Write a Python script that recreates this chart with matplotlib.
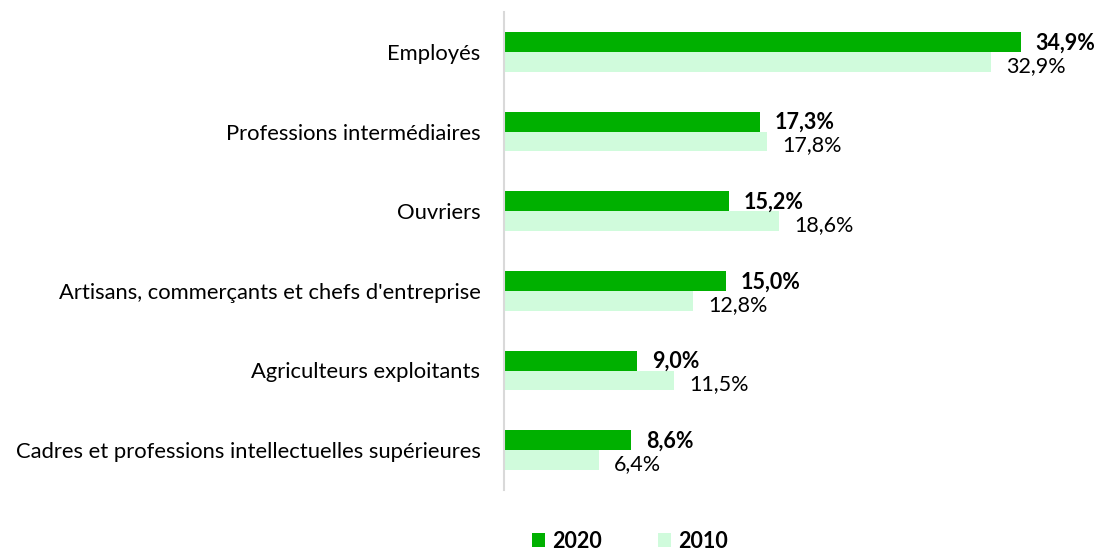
import matplotlib.pyplot as plt
import numpy as np

plt.rcParams['font.family'] = ['Lato', 'DejaVu Sans']

# categories, top to bottom
categories = ["Employés", "Professions intermédiaires", "Ouvriers",
              "Artisans, commerçants et chefs d'entreprise",
              "Agriculteurs exploitants",
              "Cadres et professions intellectuelles supérieures"]
values_2020 = [34.9, 17.3, 15.2, 15.0, 9.0, 8.6]
values_2010 = [32.9, 17.8, 18.6, 12.8, 11.5, 6.4]

dark_green = "#00B000"
light_green = "#D0FBDC"

fig = plt.figure(figsize=(11.02, 5.50), dpi=100)
ax = fig.add_axes([504 / 1102, 1 - 490 / 550, 592 / 1102, 478 / 550])

y = np.arange(len(categories))
h = 0.25
ax.barh(y - h / 2, values_2020, height=h, color=dark_green, label="2020")
ax.barh(y + h / 2, values_2010, height=h, color=light_green, label="2010")

for yi, v in zip(y, values_2020):
    ax.annotate(f"{v:.1f}%".replace(".", ","), (v, yi - h / 2), xytext=(15, -1),
                textcoords="offset pixels", va="center", ha="left",
                fontsize=15.5, fontweight="bold")
for yi, v in zip(y, values_2010):
    ax.annotate(f"{v:.1f}%".replace(".", ","), (v, yi + h / 2), xytext=(15, -4),
                textcoords="offset pixels", va="center", ha="left",
                fontsize=15.5)

ax.set_xlim(0, 40)
ax.set_ylim(len(categories) - 0.5, -0.5)
ax.set_yticks(y)
ax.set_yticklabels(categories, fontsize=15.8)
ax.tick_params(axis="y", length=0, pad=17)
ax.set_xticks([])
for s in ["top", "right", "bottom"]:
    ax.spines[s].set_visible(False)
ax.spines["left"].set_color("#D9D9D9")
ax.spines["left"].set_linewidth(1.5)

fig.legend(loc="center", bbox_to_anchor=(630 / 1102, 1 - 541 / 550), ncol=2,
           frameon=False, handlelength=0.6, handleheight=0.6, columnspacing=2.6,
           handletextpad=0.35, prop={"size": 15.5, "weight": "bold"})

fig.savefig("out.png", dpi=100)
